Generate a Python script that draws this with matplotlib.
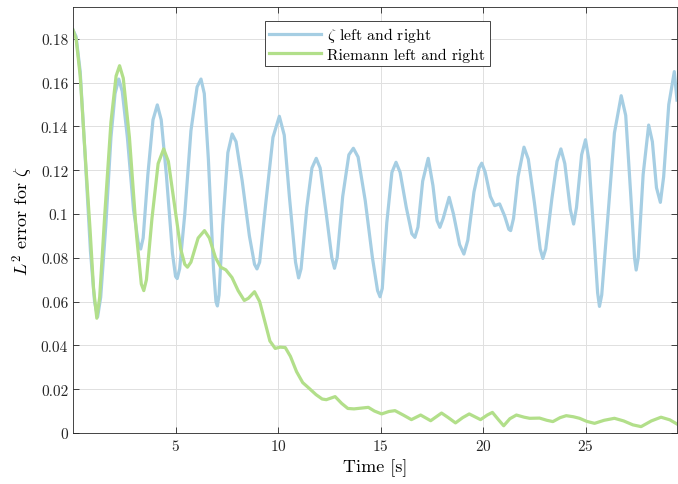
import matplotlib
matplotlib.use('Agg')
import matplotlib.pyplot as plt
from matplotlib.ticker import FuncFormatter

plt.rcParams['font.family'] = 'serif'
plt.rcParams['font.serif'] = ['cmr10']
plt.rcParams['mathtext.fontset'] = 'cm'
plt.rcParams['axes.formatter.use_mathtext'] = True

# zeta left and right
t_zeta = [0.00, 0.15, 0.35, 0.60, 0.85, 1.05, 1.20, 1.35, 1.60, 1.85, 2.05,
          2.23, 2.40, 2.65, 2.95, 3.18, 3.30, 3.42, 3.65, 3.90, 4.11, 4.30,
          4.55, 4.85, 5.00, 5.08, 5.20, 5.45, 5.75, 6.05, 6.24, 6.40, 6.60,
          6.85, 6.97, 7.04, 7.12, 7.30, 7.55, 7.76, 7.95, 8.25, 8.60, 8.85,
          8.97, 9.10, 9.40, 9.75, 10.06, 10.30, 10.55, 10.85, 11.00, 11.12,
          11.40, 11.65, 11.86, 12.05, 12.35, 12.62, 12.75, 12.88, 13.15,
          13.45, 13.67, 13.90, 14.25, 14.60, 14.85, 14.97, 15.08, 15.30,
          15.55, 15.75, 15.95, 16.25, 16.52, 16.67, 16.82, 17.05, 17.32,
          17.55, 17.75, 17.89, 18.05, 18.34, 18.55, 18.85, 19.06, 19.25,
          19.55, 19.80, 19.93, 20.10, 20.35, 20.56, 20.80, 21.05, 21.25,
          21.34, 21.48, 21.70, 21.99, 22.20, 22.50, 22.78, 22.91, 23.05,
          23.35, 23.60, 23.79, 23.98, 24.25, 24.41, 24.55, 24.80, 24.99,
          25.15, 25.40, 25.58, 25.67, 25.78, 26.05, 26.40, 26.73, 26.95,
          27.20, 27.38, 27.46, 27.56, 27.80, 28.07, 28.25, 28.45, 28.64,
          28.80, 29.05, 29.32, 29.45]
err_zeta = [0.184, 0.181, 0.165, 0.125, 0.083, 0.060, 0.053, 0.062, 0.095,
            0.135, 0.155, 0.1616, 0.156, 0.135, 0.102, 0.087, 0.084, 0.089,
            0.118, 0.143, 0.1498, 0.143, 0.118, 0.082, 0.0715, 0.0705, 0.075,
            0.100, 0.138, 0.158, 0.1616, 0.155, 0.125, 0.075, 0.060, 0.058,
            0.063, 0.095, 0.128, 0.1365, 0.133, 0.115, 0.090, 0.077, 0.0749,
            0.078, 0.105, 0.135, 0.1446, 0.136, 0.108, 0.078, 0.0708, 0.075,
            0.103, 0.121, 0.1254, 0.121, 0.100, 0.080, 0.0752, 0.080, 0.108,
            0.127, 0.130, 0.126, 0.106, 0.080, 0.065, 0.0622, 0.066, 0.096,
            0.119, 0.1236, 0.119, 0.103, 0.091, 0.0893, 0.094, 0.115, 0.1254,
            0.113, 0.097, 0.0939, 0.098, 0.1076, 0.100, 0.086, 0.0817, 0.088,
            0.110, 0.121, 0.1232, 0.119, 0.108, 0.1038, 0.1046, 0.099, 0.093,
            0.0924, 0.098, 0.117, 0.1305, 0.125, 0.105, 0.084, 0.0797, 0.084,
            0.107, 0.124, 0.1297, 0.123, 0.102, 0.0954, 0.103, 0.127, 0.1339,
            0.125, 0.090, 0.064, 0.0578, 0.063, 0.095, 0.137, 0.154, 0.145,
            0.108, 0.080, 0.0744, 0.080, 0.118, 0.1406, 0.133, 0.112, 0.1053,
            0.117, 0.150, 0.165, 0.152]

# Riemann left and right
t_riem = [0.00, 0.15, 0.35, 0.64, 0.83, 1.00, 1.16, 1.30, 1.55, 1.85, 2.10,
          2.27, 2.45, 2.75, 3.10, 3.33, 3.45, 3.58, 3.85, 4.15, 4.42, 4.65,
          4.95, 5.25, 5.45, 5.58, 5.75, 6.10, 6.41, 6.65, 6.95, 7.20, 7.45,
          7.75, 8.05, 8.35, 8.55, 8.85, 9.10, 9.35, 9.60, 9.86, 10.10, 10.35,
          10.60, 10.90, 11.20, 11.50, 11.85, 12.15, 12.35, 12.78, 13.10,
          13.40, 13.70, 14.00, 14.40, 14.70, 15.05, 15.40, 15.70, 16.10,
          16.50, 16.95, 17.44, 17.97, 18.30, 18.65, 19.00, 19.32, 19.87,
          20.20, 20.45, 20.75, 21.00, 21.30, 21.62, 22.00, 22.27, 22.75,
          23.10, 23.40, 23.75, 24.05, 24.40, 24.70, 25.05, 25.43, 25.90,
          26.40, 26.85, 27.30, 27.70, 28.20, 28.67, 29.10, 29.45]
err_riem = [0.184, 0.180, 0.163, 0.120, 0.093, 0.066, 0.0524, 0.062, 0.100,
            0.142, 0.163, 0.1677, 0.162, 0.135, 0.090, 0.068, 0.065, 0.070,
            0.098, 0.123, 0.1297, 0.124, 0.104, 0.084, 0.077, 0.0757, 0.078,
            0.089, 0.0924, 0.089, 0.080, 0.0757, 0.0745, 0.071, 0.065, 0.0605,
            0.0615, 0.0645, 0.060, 0.051, 0.042, 0.0386, 0.0392, 0.039, 0.035,
            0.028, 0.023, 0.0205, 0.0175, 0.0155, 0.0152, 0.0166, 0.0135,
            0.0112, 0.0110, 0.0113, 0.0117, 0.0100, 0.0087, 0.0098, 0.0102,
            0.0082, 0.0061, 0.0082, 0.0056, 0.0091, 0.0070, 0.0046, 0.0070,
            0.0087, 0.0061, 0.0082, 0.0094, 0.0060, 0.0033, 0.0065, 0.0082,
            0.0072, 0.0067, 0.0068, 0.0058, 0.0052, 0.0070, 0.0079, 0.0074,
            0.0067, 0.0053, 0.0044, 0.0058, 0.0067, 0.0055, 0.0037, 0.0029,
            0.0055, 0.0072, 0.0060, 0.0041]

x_ticks = [5, 10, 15, 20, 25]
y_ticks = [0, 0.02, 0.04, 0.06, 0.08, 0.1, 0.12, 0.14, 0.16, 0.18]

fig = plt.figure(figsize=(6.78, 4.85), dpi=100)
ax = fig.add_axes([0.1077, 0.1052, 0.8908, 0.8783])

ax.plot(t_zeta, err_zeta, color='#a6cee3', linewidth=2.3,
        solid_joinstyle='round', label=r'$\zeta$ left and right')
ax.plot(t_riem, err_riem, color='#b2df8a', linewidth=2.3,
        solid_joinstyle='round', label='Riemann left and right')

ax.set_xlim(0, 29.45)
ax.set_ylim(0, 0.1945)
ax.set_xticks(x_ticks)
ax.set_yticks(y_ticks)
ax.yaxis.set_major_formatter(FuncFormatter(lambda v, p: '%g' % v))
ax.tick_params(direction='in', top=True, right=True, labelsize=11,
               length=4, width=0.6, colors='#262626')
ax.grid(True, color='#e0e0e0', linewidth=0.7)
ax.set_axisbelow(True)
for s in ax.spines.values():
    s.set_color('#262626')
    s.set_linewidth(0.6)

ax.set_xlabel('Time [s]', fontsize=13)
ax.set_ylabel(r'$L^2$ error for $\zeta$', fontsize=13)

leg = ax.legend(loc='upper center', bbox_to_anchor=(0.504, 0.968),
                fontsize=11.3, handlelength=3.3, fancybox=False,
                framealpha=1, edgecolor='#262626', borderpad=0.3,
                labelspacing=0.2, handletextpad=0.4, borderaxespad=0)
leg.get_frame().set_linewidth(0.6)

fig.savefig('out.png', dpi=100)
